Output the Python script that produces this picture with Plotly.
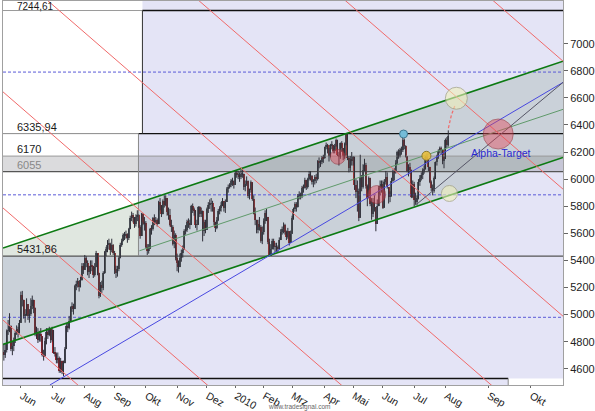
import numpy as np
import plotly.graph_objects as go

# ---------------- data ----------------
month_names = ["Jun", "Jul", "Aug", "Sep", "Okt", "Nov", "Dez", "2010", "Feb", "Mrz", "Apr", "Mai", "Jun", "Jul", "Aug"]
month_trading_days = [22, 23, 21, 22, 22, 21, 20, 20, 20, 23, 20, 21, 22, 22]
bars_before_june = 12
future_month_names = ["Sep", "Okt"]
future_month_days = [30, 30]

first_open = 4720
close = [
    4700, 4737, 4881, 4884, 4917, 4744, 4771, 4806, 4863, 4890, 4867, 4941,
    5142, 5110, 4990, 5000, 5077, 4990, 5005, 5060, 5110, 5052, 4853, 4871, 4811, 4854, 4839, 4700, 4693, 4802, 4870, 4846, 4894, 4809,
    4887, 4718, 4711, 4661, 4676, 4580, 4654, 4577, 4645, 4745, 4917, 4900, 4950, 5053, 5062, 5040, 5208, 5227, 5247, 5207, 5258, 5356, 5332,
    5418, 5384, 5316, 5318, 5358, 5356, 5294, 5354, 5453, 5309, 5137, 5220, 5194, 5308, 5462, 5483, 5517, 5524, 5476, 5517, 5458,
    5328, 5310, 5334, 5415, 5516, 5544, 5587, 5587, 5595, 5566, 5630, 5711, 5732, 5717, 5669, 5720, 5736, 5646, 5580, 5740, 5681, 5675,
    5500, 5468, 5487, 5634, 5631, 5714, 5682, 5698, 5668, 5828, 5808, 5743, 5835, 5811, 5858, 5754, 5736, 5663, 5649, 5518, 5587, 5414,
    5379, 5350, 5417, 5451, 5479, 5619, 5626, 5687, 5678, 5661, 5805, 5771, 5770, 5664, 5663, 5791, 5743, 5768, 5614, 5686, 5625,
    5776, 5812, 5817, 5822, 5792, 5685, 5637, 5700, 5765, 5789, 5811, 5837, 5788, 5831, 5924, 5944, 5957, 5985, 5988, 5957,
    6048, 6032, 6034, 6019, 6037, 6041, 5943, 5963, 5988, 5875, 5918, 5976, 5851, 5746, 5696, 5621, 5668, 5644, 5540, 5608,
    5690, 5749, 5721, 5534, 5434, 5484, 5540, 5500, 5503, 5500, 5482, 5553, 5612, 5630, 5661, 5608, 5570, 5615, 5532, 5598,
    5713, 5776, 5817, 5795, 5877, 5889, 5875, 5937, 5936, 5995, 5940, 6000, 6040, 6022, 5982, 5987, 6017, 6000, 6132, 6120, 6128, 6157, 6153,
    6235, 6252, 6222, 6171, 6250, 6252, 6207, 6244, 6291, 6180, 6162, 6264, 6230, 6168, 6259, 6332, 6159, 6084, 6146, 6135,
    6166, 5958, 5908, 5909, 5715, 6017, 5943, 6070, 6102, 5946, 5864, 6007, 5820, 5746, 5829, 5794, 5670, 5805, 5936, 5946, 5965,
    5790, 5981, 6013, 5939, 5869, 5873, 5984, 6057, 6049, 6120, 6203, 6171, 6216, 6216, 6292, 6243, 6170, 6061, 6088, 6069, 5869, 5965,
    5847, 5834, 5858, 5981, 6007, 6028, 6065, 6073, 6160, 6152, 6091, 5982, 5935, 5915, 6006, 6125, 6166, 6204, 6229, 6214, 6135, 6148,
    6292, 6255, 6321,
]
high = [
    4780, 4790, 4890, 4960, 5010, 4920, 4800, 4830, 4880, 4920, 4910, 4960,
    5170, 5175, 5100, 5040, 5120, 5070, 5040, 5120, 5140, 5110, 5020, 4910, 4900, 4880, 4900, 4830, 4740, 4830, 4900, 4900, 4910, 4900,
    4910, 4870, 4760, 4720, 4720, 4690, 4680, 4660, 4660, 4760, 4930, 4940, 4990, 5060, 5090, 5080, 5220, 5250, 5270, 5250, 5280, 5380, 5380,
    5440, 5430, 5400, 5360, 5400, 5400, 5360, 5380, 5470, 5450, 5280, 5240, 5250, 5320, 5470, 5500, 5550, 5560, 5530, 5560, 5520,
    5470, 5360, 5360, 5430, 5530, 5560, 5600, 5610, 5620, 5600, 5640, 5730, 5760, 5750, 5720, 5740, 5770, 5740, 5660, 5750, 5750, 5720,
    5690, 5520, 5520, 5640, 5660, 5720, 5740, 5720, 5710, 5840, 5860, 5800, 5850, 5880, 5880, 5860, 5790, 5780, 5700, 5660, 5620, 5600,
    5450, 5400, 5450, 5480, 5510, 5630, 5660, 5700, 5710, 5700, 5810, 5820, 5790, 5770, 5700, 5800, 5800, 5790, 5720, 5700, 5700,
    5790, 5830, 5850, 5860, 5840, 5790, 5680, 5720, 5780, 5800, 5830, 5860, 5830, 5850, 5940, 5960, 5970, 6000, 6010, 5990,
    6060, 6065, 6060, 6050, 6070, 6080, 6040, 5990, 6020, 5990, 5930, 5990, 5960, 5880, 5790, 5700, 5700, 5720, 5660, 5650,
    5710, 5770, 5780, 5720, 5560, 5520, 5560, 5560, 5530, 5530, 5510, 5570, 5630, 5650, 5680, 5670, 5620, 5640, 5610, 5620,
    5730, 5790, 5830, 5830, 5890, 5910, 5900, 5950, 5960, 6010, 5990, 6010, 6060, 6060, 6030, 6000, 6030, 6040, 6140, 6160, 6140, 6170, 6180,
    6240, 6270, 6260, 6230, 6260, 6280, 6250, 6260, 6300, 6290, 6200, 6270, 6280, 6230, 6270, 6340, 6320, 6170, 6170, 6200,
    6170, 6120, 6000, 5990, 5930, 6180, 6030, 6110, 6150, 6120, 5960, 6020, 6010, 5860, 5860, 5880, 5790, 5850, 5950, 5990, 5990,
    5990, 6000, 6060, 6050, 5930, 5910, 6010, 6070, 6080, 6140, 6210, 6220, 6230, 6240, 6340, 6300, 6250, 6170, 6110, 6120, 6070, 5990,
    5980, 5900, 5880, 6000, 6030, 6050, 6080, 6100, 6170, 6190, 6140, 6090, 5990, 5960, 6020, 6130, 6180, 6220, 6240, 6240, 6210, 6170,
    6300, 6310, 6360,
]
low = [
    4660, 4680, 4720, 4850, 4870, 4730, 4700, 4730, 4790, 4850, 4830, 4860,
    4950, 5060, 4970, 4940, 4990, 4960, 4940, 4990, 5040, 5010, 4840, 4820, 4790, 4800, 4800, 4690, 4660, 4690, 4780, 4820, 4840, 4790,
    4800, 4710, 4690, 4640, 4640, 4570, 4570, 4560, 4545, 4640, 4750, 4870, 4890, 4960, 5020, 5000, 5050, 5180, 5200, 5170, 5200, 5250, 5300,
    5330, 5350, 5290, 5270, 5300, 5320, 5270, 5280, 5350, 5290, 5120, 5130, 5160, 5180, 5300, 5430, 5460, 5480, 5440, 5460, 5440,
    5300, 5270, 5280, 5320, 5430, 5500, 5540, 5550, 5560, 5530, 5550, 5630, 5690, 5680, 5640, 5650, 5690, 5640, 5560, 5590, 5660, 5620,
    5490, 5440, 5450, 5490, 5590, 5620, 5660, 5670, 5650, 5680, 5770, 5720, 5740, 5790, 5800, 5730, 5700, 5650, 5610, 5510, 5490, 5400,
    5320, 5310, 5350, 5390, 5420, 5520, 5590, 5610, 5640, 5630, 5670, 5750, 5730, 5640, 5620, 5680, 5720, 5720, 5540, 5580, 5600,
    5640, 5750, 5780, 5760, 5760, 5660, 5610, 5630, 5690, 5740, 5760, 5800, 5760, 5750, 5850, 5900, 5930, 5940, 5950, 5930,
    5960, 6010, 6000, 5980, 6000, 6010, 5920, 5910, 5950, 5860, 5850, 5900, 5840, 5740, 5660, 5600, 5600, 5620, 5530, 5520,
    5590, 5670, 5690, 5520, 5433, 5440, 5480, 5480, 5460, 5460, 5460, 5480, 5550, 5590, 5600, 5590, 5550, 5560, 5510, 5530,
    5600, 5700, 5760, 5760, 5790, 5850, 5850, 5860, 5900, 5930, 5920, 5930, 5990, 5990, 5960, 5940, 5960, 5970, 5990, 6080, 6090, 6110, 6120,
    6150, 6220, 6190, 6130, 6160, 6220, 6190, 6190, 6240, 6170, 6100, 6150, 6200, 6140, 6150, 6250, 6140, 6050, 6060, 6100,
    6100, 5920, 5860, 5760, 5690, 5850, 5910, 5930, 6060, 5930, 5800, 5860, 5800, 5700, 5720, 5760, 5615, 5700, 5800, 5880, 5900,
    5780, 5820, 5960, 5930, 5820, 5830, 5870, 5980, 5990, 6040, 6110, 6150, 6160, 6180, 6200, 6220, 6160, 6050, 6020, 6040, 5860, 5860,
    5800, 5810, 5810, 5850, 5950, 5990, 6000, 6040, 6070, 6120, 6060, 5970, 5910, 5880, 5900, 6000, 6100, 6150, 6190, 6180, 6110, 6080,
    6160, 6230, 6240,
]

# horizontal box levels (tradesignal "box" drawing) and their dashed middles
box_levels = [7244.61, 6335.94, 5431.86, 4527.78]
box_mid_levels = [6790.28, 5883.90, 4979.82]
band_levels = [6055, 6170]
level_labels = ["7244,61", "6335,94", "6170", "6055", "5431,86"]
level_values = [7244.61, 6335.94, 6170, 6055, 5431.86]
upper_box_start = 85.6
lower_box_start = 82.8
bottom_box_end = 343.2

# trend channel
channel_x = [-12.6, 381.8]
channel_upper = [5491, 6870]
channel_lower = [4780, 6160]
channel_mid_x = [83.5, 381.8]
channel_mid = [5471, 6515]
trend_blue_x = [20.4, 381.8]
trend_blue_y = [4480, 6714]
trend_grey_x = [278.6, 381.8]
trend_grey_y = [5813, 6714]

# falling red lines (start / end price across the chart)
red_x = [-12.6, 381.8]
red_start = [4959, 5787, 6644, 7604, 8571, 9508, 10453]
red_end = [1377, 2205, 3062, 4021, 4988, 5926, 6871]

# markers
red_circle_x = [223.2, 250.6, 336.2]
red_circle_y = [6165, 5886, 6333]
yellow_circle_x = [306.7, 301.8]
yellow_circle_y = [6597, 5894]
orange_dot = (285.6, 6172)
cyan_dot = (269.5, 6333)
projection_x = [301.1, 303.2, 306.0]
projection_y = [6377, 6473, 6553]
target_label = "Alpha-Target"

# ---------------- derived ----------------
n = len(close)
assert len(high) == n and len(low) == n
idx = np.arange(-bars_before_june, -bars_before_june + n)
c = np.array(close, float)
o = np.concatenate([[first_open], c[:-1]])
h = np.maximum(np.array(high, float), np.maximum(o, c))
l = np.minimum(np.array(low, float), np.minimum(o, c))

tick_pos = list(np.concatenate([[0], np.cumsum(month_trading_days)]))
last = tick_pos[-1]
for d in future_month_days:
    last = last + d
    tick_pos.append(last)
tick_text = month_names + future_month_names

X0, X1 = -12.6, 381.8
Y0, Y1 = 4480, 7315
FONT = "Liberation Sans, Arial, sans-serif"
LAV = "#e4e4f6"

fig = go.Figure()

shapes = []
shapes.append(dict(type="rect", xref="x", yref="y", x0=X0, x1=upper_box_start, y0=box_levels[1], y1=Y1,
                   fillcolor="white", line_width=0, layer="below"))
shapes.append(dict(type="rect", xref="x", yref="y", x0=X0, x1=lower_box_start, y0=box_levels[2], y1=box_levels[1],
                   fillcolor="white", line_width=0, layer="below"))
shapes.append(dict(type="rect", xref="x", yref="y", x0=bottom_box_end, x1=X1, y0=Y0, y1=box_levels[3],
                   fillcolor="white", line_width=0, layer="below"))
shapes.append(dict(type="rect", xref="x", yref="y", x0=X0, x1=X1, y0=band_levels[0], y1=band_levels[1],
                   fillcolor="rgba(90,90,100,0.22)", line_width=0, layer="below"))

# channel fill
fig.add_trace(go.Scatter(
    x=[channel_x[0], channel_x[1], channel_x[1], channel_x[0], channel_x[0]],
    y=[channel_upper[0], channel_upper[1], channel_lower[1], channel_lower[0], channel_upper[0]],
    fill="toself", fillcolor="rgba(110,140,110,0.21)", mode="lines", line=dict(width=0),
    hoverinfo="skip", showlegend=False))


def hline(y, xa, xb, color, width=1, dash=None):
    fig.add_trace(go.Scatter(x=[xa, xb], y=[y, y], mode="lines",
                             line=dict(color=color, width=width, dash=dash),
                             hoverinfo="skip", showlegend=False))


def vline(x, ya, yb, color, width=1):
    fig.add_trace(go.Scatter(x=[x, x], y=[ya, yb], mode="lines",
                             line=dict(color=color, width=width), hoverinfo="skip", showlegend=False))


hline(box_levels[0], X0, upper_box_start, "#9a9a9a")
hline(box_levels[0], upper_box_start, X1, "#111111", 1.4)
hline(box_levels[1], X0, lower_box_start, "#8a8a8a")
hline(box_levels[1], lower_box_start, X1, "#111111", 1.4)
hline(box_levels[2], X0, X1, "#555555", 1.2)
hline(box_levels[3], X0, bottom_box_end, "#111111", 1.4)
hline(band_levels[1], X0, X1, "#9a9a9a", 1)
hline(band_levels[0], X0, X1, "#555555", 1.2)
vline(upper_box_start, box_levels[1], box_levels[0], "#333333")
vline(lower_box_start, box_levels[2], box_levels[1], "#888888")
vline(bottom_box_end, Y0, box_levels[3], "#888888")
for m in box_mid_levels:
    hline(m, X0, X1, "#5a5ad8", 1, "3px,2px")

# candles: wicks + bodies
wx, wy = [], []
for i, hh, ll in zip(idx, h, l):
    wx += [i, i, None]
    wy += [ll, hh, None]
fig.add_trace(go.Scatter(x=wx, y=wy, mode="lines", line=dict(color="#2e2e38", width=1),
                         hoverinfo="skip", showlegend=False))
body_base = np.minimum(o, c)
body_h = np.maximum(np.abs(c - o), 4)
body_col = ["#a8222c" if cc < oo else "#50505e" for oo, cc in zip(o, c)]
fig.add_trace(go.Bar(x=idx, y=body_h, base=body_base, width=0.8, marker=dict(color=body_col, line=dict(width=0)),
                     hoverinfo="skip", showlegend=False))

# channel lines
fig.add_trace(go.Scatter(x=channel_mid_x, y=channel_mid, mode="lines", line=dict(color="#5f9a6a", width=1),
                         hoverinfo="skip", showlegend=False))
fig.add_trace(go.Scatter(x=channel_x, y=channel_upper, mode="lines", line=dict(color="#0c7a12", width=1.6),
                         hoverinfo="skip", showlegend=False))
fig.add_trace(go.Scatter(x=channel_x, y=channel_lower, mode="lines", line=dict(color="#0c7a12", width=1.6),
                         hoverinfo="skip", showlegend=False))

# red diagonal lines
rx, ry = [], []
for s, e in zip(red_start, red_end):
    rx += [red_x[0], red_x[1], None]
    ry += [s, e, None]
fig.add_trace(go.Scatter(x=rx, y=ry, mode="lines", line=dict(color="#f06a6a", width=1),
                         hoverinfo="skip", showlegend=False))

# trend lines
fig.add_trace(go.Scatter(x=trend_blue_x, y=trend_blue_y, mode="lines", line=dict(color="#4848e0", width=1),
                         hoverinfo="skip", showlegend=False))
fig.add_trace(go.Scatter(x=trend_grey_x, y=trend_grey_y, mode="lines", line=dict(color="#555566", width=1),
                         hoverinfo="skip", showlegend=False))

# projection (dashed)
fig.add_trace(go.Scatter(x=projection_x, y=projection_y, mode="lines",
                         line=dict(color="#f06a6a", width=1.2, dash="3px,2px"),
                         hoverinfo="skip", showlegend=False))

# circles
fig.add_trace(go.Scatter(x=yellow_circle_x, y=yellow_circle_y, mode="markers",
                         marker=dict(size=[22, 16], color="rgba(240,240,185,0.85)",
                                     line=dict(color="#a0a080", width=1)),
                         hoverinfo="skip", showlegend=False))
fig.add_trace(go.Scatter(x=red_circle_x, y=red_circle_y, mode="markers",
                         marker=dict(size=[15, 18, 30], color="rgba(228,70,85,0.62)",
                                     line=dict(color="rgba(150,50,60,0.8)", width=1)),
                         hoverinfo="skip", showlegend=False))
fig.add_trace(go.Scatter(x=[orange_dot[0]], y=[orange_dot[1]], mode="markers",
                         marker=dict(size=9, color="rgba(232,190,60,0.9)", line=dict(color="#8a7a30", width=1)),
                         hoverinfo="skip", showlegend=False))
fig.add_trace(go.Scatter(x=[cyan_dot[0]], y=[cyan_dot[1]], mode="markers",
                         marker=dict(size=8, color="#74bcd8", line=dict(color="#3f7890", width=1)),
                         hoverinfo="skip", showlegend=False))

annotations = []
for txt, val in zip(level_labels, level_values):
    top_label = val == level_values[0]
    annotations.append(dict(xref="paper", yref="y", x=0.021, y=val, text=txt, showarrow=False,
                            xanchor="left", yanchor="bottom", yshift=-3 if top_label else -1,
                            font=dict(family=FONT, size=10 if top_label else 11,
                                      color="#888888" if txt == "6055" else "#1a1a1a")))
annotations.append(dict(xref="x", yref="y", x=red_circle_x[2] + 2, y=red_circle_y[2], text=target_label,
                        showarrow=False, xanchor="center", yanchor="middle", yshift=-19,
                        font=dict(family=FONT, size=10.5, color="#2a2ad0")))
annotations.append(dict(xref="paper", yref="paper", x=0.528, y=-0.058, text="www.tradesignal.com",
                        showarrow=False, xanchor="center", yanchor="middle",
                        font=dict(family=FONT, size=6.5, color="#666666")))

fig.update_layout(
    width=595, height=411,
    margin=dict(l=3, r=30, t=0, b=24),
    paper_bgcolor="white", plot_bgcolor=LAV,
    showlegend=False, barmode="overlay", bargap=0,
    shapes=shapes, annotations=annotations,
    font=dict(family=FONT, size=11, color="#222222"),
    xaxis=dict(range=[X0, X1], tickmode="array", tickvals=tick_pos, ticktext=tick_text,
               ticks="outside", ticklen=2, tickcolor="#666", ticklabelposition="outside right",
               ticklabelstandoff=0,
               showgrid=False, zeroline=False, showline=True, linecolor="#a0a0a0", mirror=True,
               tickfont=dict(family=FONT, size=10.5, color="#222")),
    yaxis=dict(range=[Y0, Y1], side="right", tickmode="array", tickvals=list(range(4600, 7001, 200)),
               ticks="outside", ticklen=4, tickcolor="#666", showgrid=False, zeroline=False,
               showline=True, linecolor="#a0a0a0", mirror=True,
               tickfont=dict(family=FONT, size=11, color="#222")),
)

fig.write_html("out.html")
